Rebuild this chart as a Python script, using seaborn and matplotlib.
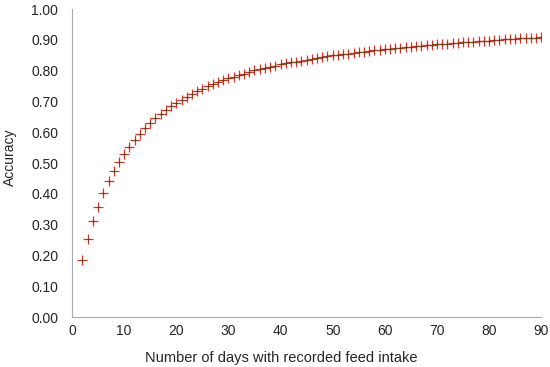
import matplotlib
matplotlib.use("Agg")
import matplotlib.pyplot as plt
import seaborn as sns
import pandas as pd
from matplotlib.ticker import MultipleLocator, FormatStrFormatter

# days with recorded feed intake (2..90) and accuracy
days = list(range(2, 91))
accuracy = [
    0.184, 0.253, 0.313, 0.358, 0.404, 0.442, 0.475, 0.504, 0.530, 0.554,   # 2-11
    0.576, 0.595, 0.613, 0.631, 0.646, 0.660, 0.673, 0.685, 0.696, 0.706,   # 12-21
    0.716, 0.725, 0.733, 0.741, 0.749, 0.756, 0.763, 0.769, 0.775, 0.781,   # 22-31
    0.786, 0.791, 0.796, 0.801, 0.805, 0.809, 0.813, 0.817, 0.821, 0.824,   # 32-41
    0.827, 0.830, 0.833, 0.836, 0.839, 0.842, 0.845, 0.847, 0.850, 0.852,   # 42-51
    0.854, 0.856, 0.858, 0.860, 0.862, 0.864, 0.866, 0.868, 0.870, 0.872,   # 52-61
    0.873, 0.875, 0.877, 0.878, 0.880, 0.881, 0.883, 0.884, 0.886, 0.887,   # 62-71
    0.888, 0.890, 0.891, 0.892, 0.893, 0.895, 0.896, 0.897, 0.898, 0.899,   # 72-81
    0.900, 0.902, 0.903, 0.904, 0.905, 0.906, 0.907, 0.908, 0.910,          # 82-90
]

df = pd.DataFrame({"days": days, "accuracy": accuracy})

sns.set_style("white")
plt.rcParams["font.family"] = ["Liberation Sans", "DejaVu Sans"]

fig = plt.figure(figsize=(5.5, 3.67), dpi=100)
ax = fig.add_axes([0.131, 0.136, 0.853, 0.839])

# red plus markers with a darker centre
sns.scatterplot(data=df, x="days", y="accuracy", marker="+", s=60,
                color="#e8302a", linewidth=0.9, ax=ax, zorder=3)
sns.scatterplot(data=df, x="days", y="accuracy", marker="+", s=10,
                color="#5a4a1a", linewidth=0.7, ax=ax, zorder=4)

ax.set_xlim(0, 90)
ax.set_ylim(0, 1.0)
ax.xaxis.set_major_locator(MultipleLocator(10))
ax.xaxis.set_minor_locator(MultipleLocator(1))
ax.yaxis.set_major_locator(MultipleLocator(0.1))
ax.yaxis.set_major_formatter(FormatStrFormatter("%.2f"))

ax.set_xlabel("Number of days with recorded feed intake", fontsize=10.5)
ax.xaxis.set_label_coords(0.446, -0.11)
ax.set_ylabel("Accuracy", fontsize=10)
ax.yaxis.set_label_coords(-0.118, 0.52)

for side in ["top", "right"]:
    ax.spines[side].set_visible(False)
for side in ["left", "bottom"]:
    ax.spines[side].set_color("#aaaaaa")
    ax.spines[side].set_linewidth(0.8)

ax.tick_params(axis="both", which="major", direction="in", length=5,
               color="#aaaaaa", labelsize=10)
ax.tick_params(axis="x", which="major", pad=5)
ax.tick_params(axis="y", which="major", pad=10)
ax.tick_params(axis="x", which="minor", direction="in", length=2.5,
               color="#aaaaaa")

fig.savefig("out.png", dpi=100)
